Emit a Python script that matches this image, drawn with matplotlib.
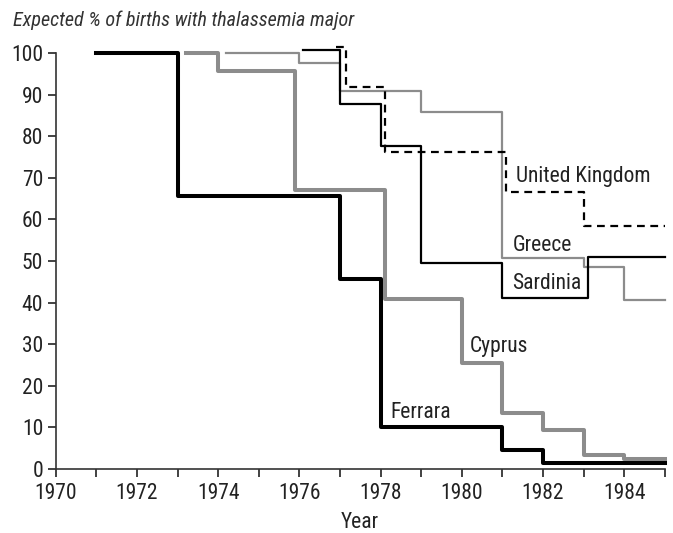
import matplotlib

matplotlib.use("Agg")
import matplotlib.pyplot as plt

# step series: change years (last entry = end of line) and levels
ferrara_x = [1971, 1973, 1977, 1978, 1981, 1982, 1985]
ferrara_y = [100, 65.7, 45.7, 10.2, 4.6, 1.5, 1.5]
cyprus_x = [1973.2, 1974, 1975.9, 1978.1, 1980, 1981, 1982, 1983, 1984, 1985]
cyprus_y = [100, 95.7, 67.1, 40.9, 25.4, 13.4, 9.4, 3.3, 2.3, 2.3]
greece_x = [1974.2, 1976, 1977, 1979, 1981, 1983, 1984, 1985]
greece_y = [100, 97.5, 90.9, 85.7, 50.8, 48.6, 40.6, 40.6]
sardinia_x = [1976.1, 1977, 1978, 1979, 1981, 1983.1, 1985]
sardinia_y = [100.7, 87.7, 77.6, 49.6, 41.0, 50.9, 50.9]
uk_x = [1976.9, 1977.15, 1978.1, 1981.1, 1983, 1985]
uk_y = [101.5, 91.8, 76.3, 66.7, 58.4, 58.4]

x_ticks = list(range(1970, 1986))
x_labels = [str(y) if y % 2 == 0 else "" for y in x_ticks]
y_ticks = list(range(0, 101, 10))

plt.rcParams["font.family"] = ["Roboto Condensed", "DejaVu Sans Condensed", "DejaVu Sans"]
GRAY = "#8c8c8c"
INK = "#222222"
FS = 15.5

fig = plt.figure(figsize=(6.73, 5.33), dpi=100)
ax = fig.add_axes([0.0828, 0.120, 0.905, 0.7806])

ax.step(ferrara_x, ferrara_y, where="post", color="black", lw=2.9, clip_on=False)
ax.step(cyprus_x, cyprus_y, where="post", color=GRAY, lw=2.9, clip_on=False)
ax.step(greece_x, greece_y, where="post", color=GRAY, lw=1.6, clip_on=False)
ax.step(sardinia_x, sardinia_y, where="post", color="black", lw=1.6, clip_on=False)
ax.step(uk_x, uk_y, where="post", color="black", lw=1.6, ls=(0, (3.5, 2.5)), clip_on=False)

lab = dict(fontsize=FS, color=INK, va="center", ha="left")
ax.text(1981.34, 70.3, "United Kingdom", **lab)
ax.text(1981.25, 53.8, "Greece", **lab)
ax.text(1981.25, 44.7, "Sardinia", **lab)
ax.text(1980.2, 29.4, "Cyprus", **lab)
ax.text(1978.23, 13.7, "Ferrara", **lab)

ax.set_xlim(1970, 1985)
ax.set_ylim(0, 100)
ax.set_xticks(x_ticks)
ax.set_xticklabels(x_labels)
ax.set_yticks(y_ticks)
ax.tick_params(axis="both", labelsize=FS, colors=INK, length=6, width=1.2, pad=3)
ax.tick_params(axis="x", pad=4)
for side in ("top", "right"):
    ax.spines[side].set_visible(False)
for side in ("left", "bottom"):
    ax.spines[side].set_color("#333333")
    ax.spines[side].set_linewidth(1.2)

ax.set_xlabel("Year", fontsize=FS, color=INK, labelpad=6)
fig.text(0.019, 0.962, "Expected % of births with thalassemia major",
         fontsize=14.5, style="italic", color="#333333", va="center", ha="left")

fig.savefig("out.png", dpi=100, facecolor="white")
